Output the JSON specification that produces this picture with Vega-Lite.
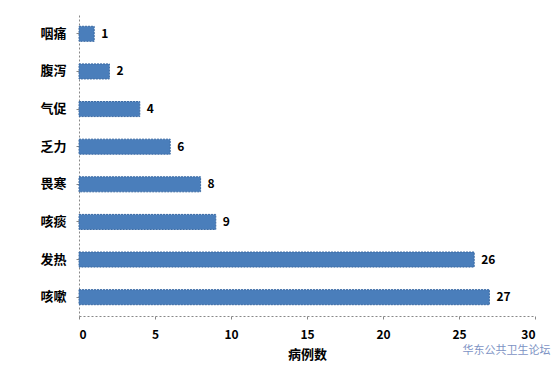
{
  "$schema": "https://vega.github.io/schema/vega-lite/v6.json",
  "width": 456,
  "height": 301,
  "autosize": "none",
  "padding": {"left": 79, "top": 15, "right": 18, "bottom": 53},
  "background": "white",
  "title": {
    "text": "华东公共卫生论坛",
    "orient": "bottom",
    "anchor": "end",
    "offset": -16,
    "fontSize": 11,
    "font": "Noto Sans CJK SC",
    "fontWeight": "normal",
    "color": "#7d93c4",
    "dx": 15
  },
  "data": {
    "values": [
      {"symptom": "咽痛", "count": 1},
      {"symptom": "腹泻", "count": 2},
      {"symptom": "气促", "count": 4},
      {"symptom": "乏力", "count": 6},
      {"symptom": "畏寒", "count": 8},
      {"symptom": "咳痰", "count": 9},
      {"symptom": "发热", "count": 26},
      {"symptom": "咳嗽", "count": 27}
    ]
  },
  "encoding": {
    "y": {
      "field": "symptom",
      "type": "nominal",
      "sort": null,
      "scale": {"paddingInner": 0.6, "paddingOuter": 0.3},
      "axis": {
        "title": null,
        "domainColor": "#888888",
        "domainDash": [2, 2],
        "tickColor": "#888888",
        "tickSize": 3,
        "labelFont": "Noto Sans CJK SC",
        "labelFontSize": 13,
        "labelFontWeight": "bold",
        "labelColor": "#000000",
        "labelPadding": 10
      }
    },
    "x": {
      "field": "count",
      "type": "quantitative",
      "scale": {"domain": [0, 30]},
      "axis": {
        "title": "病例数",
        "values": [0, 5, 10, 15, 20, 25, 30],
        "grid": false,
        "domainColor": "#888888",
        "domainDash": [2, 2],
        "tickColor": "#888888",
        "tickSize": 3,
        "labelFont": "Noto Sans CJK SC",
        "labelFontSize": 12,
        "labelFontWeight": "bold",
        "labelColor": "#000000",
        "labelPadding": 10,
        "titleFont": "Noto Sans CJK SC",
        "titleFontSize": 13,
        "titleFontWeight": "bold",
        "titleColor": "#000000",
        "titlePadding": 8
      }
    }
  },
  "layer": [
    {
      "mark": {"type": "bar", "color": "#4a7ebb", "stroke": "#3b6aa3", "strokeWidth": 1, "strokeDash": [2, 1]}
    },
    {
      "mark": {"type": "text", "align": "left", "dx": 7, "font": "Noto Sans CJK SC", "fontSize": 12, "fontWeight": "bold", "color": "#000000"},
      "encoding": {"text": {"field": "count", "type": "quantitative"}}
    }
  ],
  "config": {"view": {"stroke": null}}
}
